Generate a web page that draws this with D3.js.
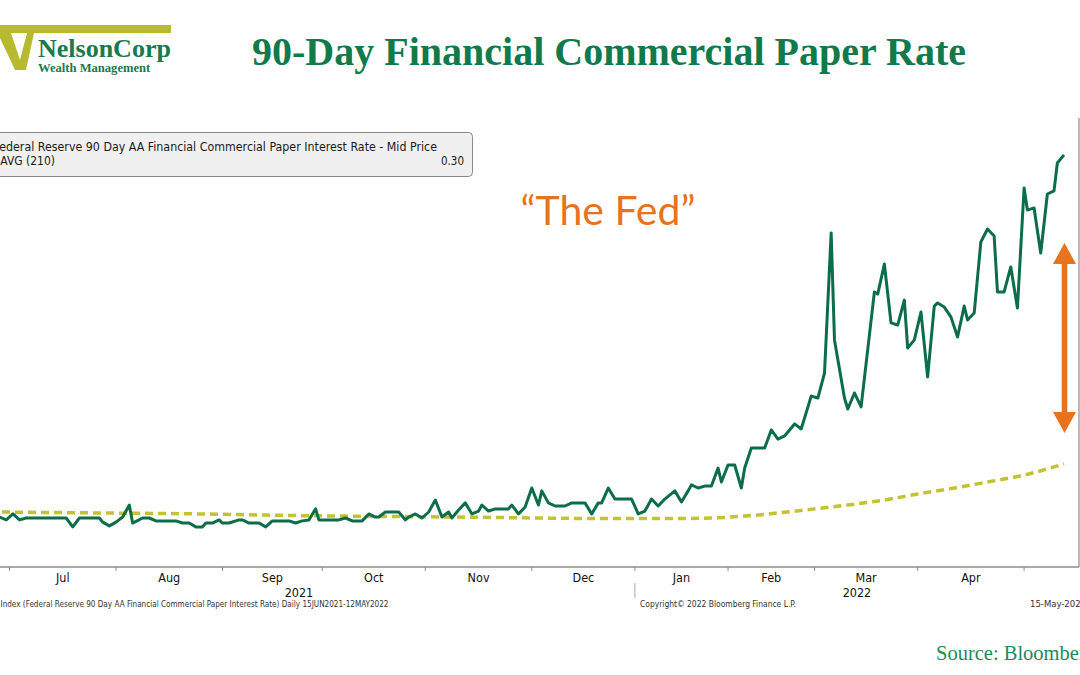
<!DOCTYPE html>
<html><head><meta charset="utf-8">
<script src="https://cdn.jsdelivr.net/npm/d3@7"></script>
<style>html,body{margin:0;padding:0;background:#fff;overflow:hidden}</style>
</head><body>
<svg id="c" width="1080" height="675"></svg>
<script>
// ---- data ----
const rateDates = ["2021-06-15","2021-06-26","2021-06-28","2021-06-30","2021-07-02","2021-07-04","2021-07-16","2021-07-18","2021-07-20","2021-07-26","2021-07-27","2021-07-29","2021-07-31","2021-08-02","2021-08-04","2021-08-05","2021-08-08","2021-08-10","2021-08-12","2021-08-18","2021-08-20","2021-08-22","2021-08-24","2021-08-26","2021-08-27","2021-08-29","2021-08-31","2021-09-01","2021-09-03","2021-09-06","2021-09-07","2021-09-09","2021-09-12","2021-09-14","2021-09-16","2021-09-21","2021-09-23","2021-09-25","2021-09-27","2021-09-29","2021-09-30","2021-10-06","2021-10-08","2021-10-10","2021-10-13","2021-10-15","2021-10-17","2021-10-18","2021-10-20","2021-10-24","2021-10-26","2021-10-27","2021-10-29","2021-10-31","2021-11-02","2021-11-04","2021-11-06","2021-11-08","2021-11-09","2021-11-11","2021-11-13","2021-11-15","2021-11-17","2021-11-18","2021-11-20","2021-11-22","2021-11-26","2021-11-27","2021-11-29","2021-12-01","2021-12-03","2021-12-05","2021-12-06","2021-12-08","2021-12-10","2021-12-13","2021-12-15","2021-12-19","2021-12-21","2021-12-23","2021-12-24","2021-12-26","2021-12-28","2022-01-02","2022-01-04","2022-01-06","2022-01-08","2022-01-10","2022-01-12","2022-01-15","2022-01-17","2022-01-19","2022-01-20","2022-01-22","2022-01-24","2022-01-26","2022-01-28","2022-01-29","2022-01-31","2022-02-02","2022-02-04","2022-02-05","2022-02-07","2022-02-11","2022-02-13","2022-02-15","2022-02-17","2022-02-20","2022-02-22","2022-02-25","2022-02-27","2022-03-01","2022-03-03","2022-03-04","2022-03-07","2022-03-08","2022-03-10","2022-03-12","2022-03-16","2022-03-17","2022-03-19","2022-03-21","2022-03-23","2022-03-25","2022-03-26","2022-03-28","2022-03-30","2022-04-01","2022-04-03","2022-04-04","2022-04-06","2022-04-08","2022-04-10","2022-04-12","2022-04-13","2022-04-15","2022-04-17","2022-04-19","2022-04-21","2022-04-22","2022-04-24","2022-04-26","2022-04-28","2022-04-30","2022-05-01","2022-05-03","2022-05-05","2022-05-07","2022-05-09","2022-05-10","2022-05-12"];
const rateValues = [0.079,0.079,0.067,0.092,0.067,0.075,0.075,0.038,0.075,0.075,0.058,0.042,0.058,0.079,0.129,0.054,0.075,0.075,0.063,0.063,0.054,0.054,0.038,0.038,0.054,0.054,0.067,0.054,0.054,0.067,0.067,0.054,0.054,0.038,0.063,0.063,0.054,0.063,0.067,0.113,0.067,0.067,0.075,0.063,0.063,0.092,0.079,0.079,0.100,0.100,0.067,0.079,0.092,0.075,0.100,0.150,0.079,0.100,0.075,0.108,0.138,0.092,0.104,0.129,0.104,0.113,0.113,0.129,0.092,0.121,0.200,0.129,0.188,0.138,0.125,0.125,0.138,0.138,0.092,0.138,0.138,0.200,0.154,0.154,0.092,0.104,0.154,0.125,0.154,0.188,0.142,0.188,0.213,0.200,0.208,0.208,0.283,0.225,0.296,0.296,0.200,0.283,0.367,0.367,0.442,0.404,0.417,0.467,0.446,0.583,0.575,0.679,1.263,0.817,0.575,0.529,0.596,0.538,1.017,1.008,1.133,0.888,0.879,0.983,0.783,0.817,0.933,0.663,0.958,0.971,0.954,0.913,0.829,0.958,0.900,0.929,1.225,1.279,1.250,1.017,1.017,1.121,0.950,1.450,1.358,1.367,1.179,1.425,1.438,1.554,1.588];
const mavgDates = ["2021-06-15","2021-06-26","2021-07-26","2021-08-25","2021-09-24","2021-10-24","2021-11-23","2021-12-23","2022-01-16","2022-01-26","2022-02-05","2022-02-15","2022-02-26","2022-03-08","2022-03-19","2022-03-29","2022-04-09","2022-04-19","2022-04-30","2022-05-12"];
const mavgValues = [0.102,0.100,0.096,0.092,0.085,0.081,0.077,0.073,0.073,0.075,0.083,0.096,0.113,0.129,0.150,0.175,0.200,0.225,0.254,0.300];
// axis tick marks (month boundaries as drawn on the reference axis)
const tickDates = ["2021-06-29","2021-07-31","2021-09-01","2021-10-01","2021-11-01","2021-12-03","2022-01-03","2022-01-31","2022-02-26","2022-03-29","2022-04-30"];
const monthLabels = ["Jul","Aug","Sep","Oct","Nov","Dec","Jan","Feb","Mar","Apr"];
const yearLabels = ["2021","2022"];
const legendLabels = ["Federal Reserve 90 Day AA Financial Commercial Paper Interest Rate - Mid Price","MAVG (210)"];
const legendLastValue = "0.30";
const titleText = "90-Day Financial Commercial Paper Rate";
const annotationText = "\u201CThe Fed\u201D";
const footerLeft = "Index (Federal Reserve 90 Day AA Financial Commercial Paper Interest Rate)  Daily 15JUN2021-12MAY2022";
const footerMid = "Copyright\u00A9 2022 Bloomberg Finance L.P.";
const footerRight = "15-May-2022";
const sourceText = "Source: Bloomberg";

// ---- setup ----
const parse = d3.timeParse("%Y-%m-%d");
const rate = rateDates.map((d,i)=>({date:parse(d), value:rateValues[i]}));
const mavg = mavgDates.map((d,i)=>({date:parse(d), value:mavgValues[i]}));
const ticks = tickDates.map(parse);

const svg = d3.select("#c");
const plot = {left:-37, right:1079, top:118, bottom:567};

const x = d3.scaleTime().domain([parse("2021-06-15"), parse("2022-05-12")]).range([-37, 1064]);
const y = d3.scaleLinear().domain([0, 1.6]).range([536, 152]);

const GREEN = "#0b6e48", OLIVE = "#c4c132", ORANGE = "#e8731e", TXTGREEN = "#117a4b";
const BBFONT = "Tahoma, 'DejaVu Sans Condensed', 'DejaVu Sans', sans-serif";

// ---- logo ----
const logo = svg.append("g");
logo.append("rect").attr("x",0).attr("y",25).attr("width",171).attr("height",8).attr("fill","#b7b92f");
logo.append("path").attr("d","M0,33 L11,33 L20,60 L27,33 L34,33 L26,70 L15,70 L0,38 Z").attr("fill","#b7b92f");
logo.append("text").attr("x",38).attr("y",57).attr("font-family","'Liberation Serif', 'Times New Roman', serif")
  .attr("font-weight","bold").attr("font-size",26).attr("fill","#177a4e").text("NelsonCorp");
logo.append("text").attr("x",38).attr("y",72).attr("font-family","'Liberation Serif', 'Times New Roman', serif")
  .attr("font-weight","bold").attr("font-size",12.6).attr("fill","#177a4e").text("Wealth Management");

// ---- title ----
svg.append("text").attr("x",609).attr("y",65).attr("text-anchor","middle")
  .attr("font-family","'Liberation Serif', 'Times New Roman', serif").attr("font-weight","bold")
  .attr("font-size",40).attr("fill",TXTGREEN).text(titleText);

// ---- frame / axis ----
svg.append("line").attr("x1",plot.right).attr("x2",plot.right).attr("y1",plot.top).attr("y2",plot.bottom)
  .attr("stroke","#8c8c8c").attr("stroke-width",1.2);
svg.append("line").attr("x1",0).attr("x2",plot.right).attr("y1",plot.bottom).attr("y2",plot.bottom)
  .attr("stroke","#8c8c8c").attr("stroke-width",1.6);

svg.append("g").selectAll("line").data(ticks).join("line")
  .attr("x1",d=>x(d)).attr("x2",d=>x(d)).attr("y1",plot.bottom).attr("y2",plot.bottom+4)
  .attr("stroke","#8c8c8c").attr("stroke-width",1);

svg.append("g").selectAll("text").data(monthLabels).join("text")
  .attr("x",(d,i)=>(x(ticks[i])+x(ticks[i+1]))/2)
  .attr("y",582).attr("text-anchor","middle").attr("font-family",BBFONT)
  .attr("font-size",12.5).attr("fill","#111").text(d=>d);

const yearStart = ticks[monthLabels.indexOf("Jan")];
const yearCenters = [(x.range()[0]+x(yearStart))/2, (x(yearStart)+plot.right)/2];
svg.append("g").selectAll("text").data(yearLabels).join("text")
  .attr("x",(d,i)=>yearCenters[i]).attr("y",597).attr("text-anchor","middle")
  .attr("font-family",BBFONT).attr("font-size",12.5).attr("fill","#111").text(d=>d);
svg.append("line").attr("x1",x(yearStart)).attr("x2",x(yearStart)).attr("y1",583).attr("y2",598)
  .attr("stroke","#aaa").attr("stroke-width",1);

// ---- footer ----
svg.append("text").attr("x",0.5).attr("y",607).attr("font-family",BBFONT).attr("font-size",8)
  .attr("fill","#333").attr("textLength",388).attr("lengthAdjust","spacingAndGlyphs").text(footerLeft);
svg.append("text").attr("x",640).attr("y",607).attr("font-family",BBFONT).attr("font-size",8)
  .attr("fill","#333").attr("textLength",156).attr("lengthAdjust","spacingAndGlyphs").text(footerMid);
svg.append("text").attr("x",1030).attr("y",607).attr("font-family",BBFONT).attr("font-size",8)
  .attr("fill","#333").attr("textLength",56).attr("lengthAdjust","spacingAndGlyphs").text(footerRight);

// ---- lines ----
svg.append("path").datum(mavg).attr("fill","none").attr("stroke",OLIVE).attr("stroke-width",3.5)
  .attr("stroke-dasharray","8 5").attr("d", d3.line().x(d=>x(d.date)).y(d=>y(d.value)).curve(d3.curveMonotoneX));
svg.append("path").datum(rate).attr("fill","none").attr("stroke",GREEN).attr("stroke-width",3)
  .attr("stroke-linejoin","round").attr("d", d3.line().x(d=>x(d.date)).y(d=>y(d.value)));

// ---- legend ----
const lg = svg.append("g");
lg.append("rect").attr("x",-10).attr("y",132.5).attr("width",482.5).attr("height",44).attr("rx",4)
  .attr("fill","#f0f0f0").attr("stroke","#8a8a8a").attr("stroke-width",1);
lg.append("text").attr("x",-6.5).attr("y",151).attr("font-family",BBFONT).attr("font-size",11.5)
  .attr("fill","#1a1a1a").attr("textLength",443.5).attr("lengthAdjust","spacingAndGlyphs").text(legendLabels[0]);
lg.append("text").attr("x",-9).attr("y",165).attr("font-family",BBFONT).attr("font-size",11.5)
  .attr("fill","#1a1a1a").attr("textLength",64).attr("lengthAdjust","spacingAndGlyphs").text(legendLabels[1]);
lg.append("text").attr("x",464).attr("y",165).attr("text-anchor","end").attr("font-family",BBFONT)
  .attr("font-size",11.5).attr("fill","#1a1a1a").text(legendLastValue);

// ---- annotation ----
svg.append("text").attr("x",608).attr("y",225).attr("text-anchor","middle")
  .attr("font-family","Lato, 'Open Sans', sans-serif").attr("font-size",41)
  .attr("fill",ORANGE).text(annotationText);
const ax = 1064.5, aTop = 243, aBot = 433, hh = 21, hw = 11.5, sw = 2.8;
svg.append("path").attr("fill",ORANGE).attr("d",
  `M${ax},${aTop} L${ax+hw},${aTop+hh} L${ax+sw},${aTop+hh} L${ax+sw},${aBot-hh} L${ax+hw},${aBot-hh} L${ax},${aBot} L${ax-hw},${aBot-hh} L${ax-sw},${aBot-hh} L${ax-sw},${aTop+hh} L${ax-hw},${aTop+hh} Z`);

// ---- source ----
svg.append("text").attr("x",936).attr("y",660).attr("font-family","'Liberation Serif', 'Times New Roman', serif")
  .attr("font-size",20.5).attr("fill","#1d8a5b").text(sourceText);
</script>
</body></html>
